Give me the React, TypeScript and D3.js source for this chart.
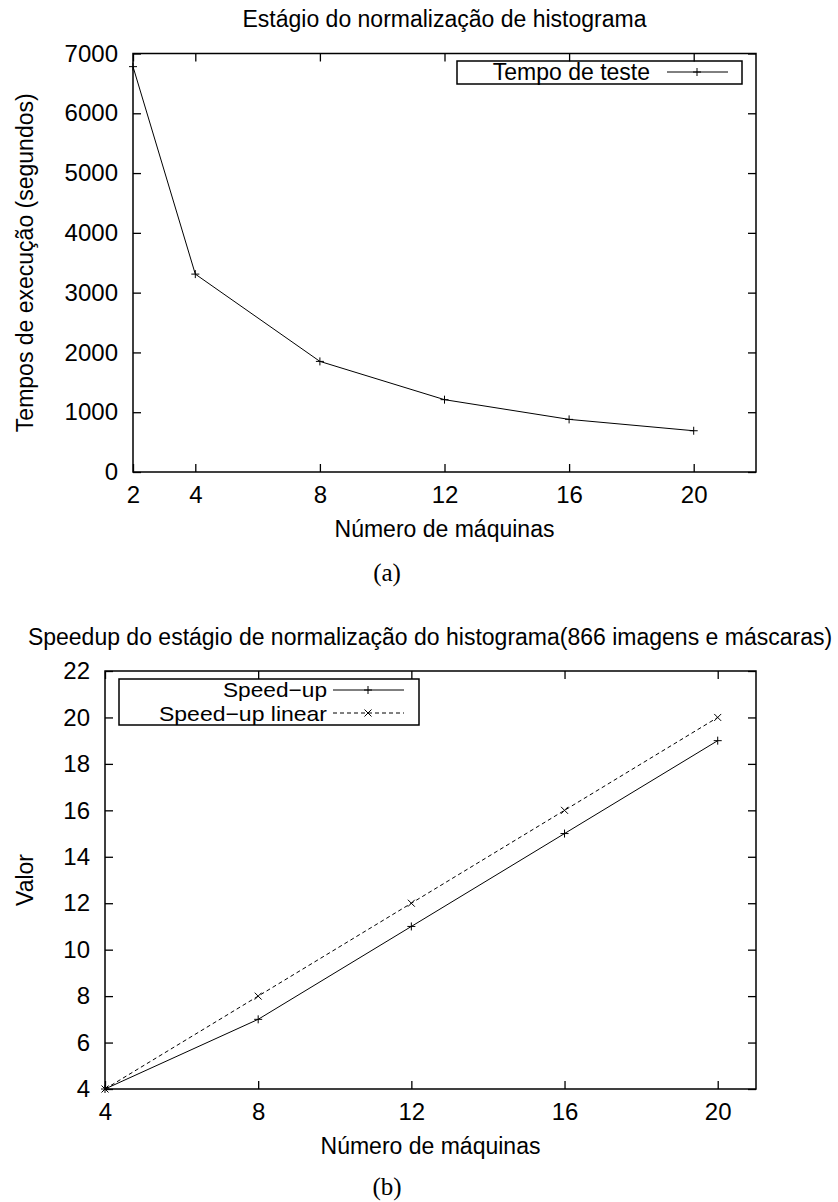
import React, { useEffect, useRef } from 'react';
import * as d3 from 'd3';

// painel (a): tempo de teste
const machinesA = [2, 4, 8, 12, 16, 20];
const tempoTeste = [6780, 3310, 1850, 1210, 880, 690];
const xTicksA = [2, 4, 8, 12, 16, 20];
const yTicksA = [0, 1000, 2000, 3000, 4000, 5000, 6000, 7000];

// painel (b): speedup
const machinesB = [4, 8, 12, 16, 20];
const speedup = [4, 7, 11, 15, 19];
const speedupLinear = [4, 8, 12, 16, 20];
const xTicksB = [4, 8, 12, 16, 20];
const yTicksB = [4, 6, 8, 10, 12, 14, 16, 18, 20, 22];

const FONT = '"Liberation Sans", Arial, Helvetica, sans-serif';
const SERIF = '"Liberation Serif", "Times New Roman", serif';
const FS = 23; // titulos e legendas
const FT = 24; // rotulos dos ticks

const plus = (x: number, y: number, s = 4) => `M${x - s},${y}H${x + s}M${x},${y - s}V${y + s}`;
const cross = (x: number, y: number, s = 3.5) =>
  `M${x - s},${y - s}L${x + s},${y + s}M${x - s},${y + s}L${x + s},${y - s}`;

function drawFrame(g: any, x: any, y: any, xTicks: number[], yTicks: number[], w: number, h: number) {
  const style = (sel: any, labels: boolean) => {
    sel.select('.domain').remove();
    sel.selectAll('line').attr('stroke', '#000').attr('stroke-width', 1.3);
    sel.selectAll('text')
      .attr('font-family', FONT)
      .attr('font-size', FT)
      .attr('fill', '#000');
    if (!labels) sel.selectAll('text').remove();
  };
  g.append('g').attr('transform', `translate(0,${h})`)
    .call(d3.axisBottom(x).tickValues(xTicks).tickSize(-8).tickPadding(14).tickFormat(d3.format('d')))
    .call((s: any) => style(s, true));
  g.append('g')
    .call(d3.axisTop(x).tickValues(xTicks).tickSize(-8).tickFormat(() => ''))
    .call((s: any) => style(s, false));
  g.append('g')
    .call(d3.axisLeft(y).tickValues(yTicks).tickSize(-8).tickPadding(15).tickFormat(d3.format('d')))
    .call((s: any) => style(s, true));
  g.append('g').attr('transform', `translate(${w},0)`)
    .call(d3.axisRight(y).tickValues(yTicks).tickSize(-8).tickFormat(() => ''))
    .call((s: any) => style(s, false));
  g.append('rect').attr('width', w).attr('height', h)
    .attr('fill', 'none').attr('stroke', '#000').attr('stroke-width', 1.5);
}

function text(svg: any, str: string, x: number, y: number, anchor = 'middle', rotate = false, family = FONT, size = FS) {
  const t = svg.append('text')
    .attr('font-family', family).attr('font-size', size)
    .attr('text-anchor', anchor).attr('fill', '#000').text(str);
  if (rotate) t.attr('transform', `translate(${x},${y}) rotate(-90)`);
  else t.attr('x', x).attr('y', y);
  return t;
}

export default function App() {
  const ref = useRef<SVGSVGElement>(null);

  useEffect(() => {
    const svg = d3.select(ref.current);
    svg.selectAll('*').remove();

    // ---------- (a) ----------
    const A = { left: 133, top: 53.5, right: 756, bottom: 472 };
    const wA = A.right - A.left, hA = A.bottom - A.top;
    const xA = d3.scaleLinear().domain([2, 22]).range([0, wA]);
    const yA = d3.scaleLinear().domain([0, 7000]).range([hA, 0]);
    const gA = svg.append('g').attr('transform', `translate(${A.left},${A.top})`);
    drawFrame(gA, xA, yA, xTicksA, yTicksA, wA, hA);

    const lineA = d3.line<number>().x((_, i) => xA(machinesA[i])).y(d => yA(d));
    gA.append('path').datum(tempoTeste).attr('d', lineA)
      .attr('fill', 'none').attr('stroke', '#000').attr('stroke-width', 1);
    gA.selectAll('.pA').data(tempoTeste).enter().append('path')
      .attr('d', (d, i) => plus(xA(machinesA[i]), yA(d)))
      .attr('stroke', '#000').attr('stroke-width', 1);

    // legenda (a)
    svg.append('rect').attr('x', 457).attr('y', 61).attr('width', 285).attr('height', 23)
      .attr('fill', 'none').attr('stroke', '#000').attr('stroke-width', 1.5);
    text(svg, 'Tempo de teste', 650, 80, 'end');
    svg.append('line').attr('x1', 667).attr('x2', 728).attr('y1', 72).attr('y2', 72)
      .attr('stroke', '#000').attr('stroke-width', 1);
    svg.append('path').attr('d', plus(697, 72)).attr('stroke', '#000').attr('stroke-width', 1);

    text(svg, 'Estágio do normalização de histograma', (A.left + A.right) / 2, 27);
    text(svg, 'Tempos de execução (segundos)', 33, (A.top + A.bottom) / 2, 'middle', true);
    text(svg, 'Número de máquinas', (A.left + A.right) / 2, 537);
    text(svg, '(a)', 387, 581, 'middle', false, SERIF, 25);

    // ---------- (b) ----------
    const B = { left: 105, top: 671, right: 756, bottom: 1089 };
    const wB = B.right - B.left, hB = B.bottom - B.top;
    const xB = d3.scaleLinear().domain([4, 21]).range([0, wB]);
    const yB = d3.scaleLinear().domain([4, 22]).range([hB, 0]);
    const gB = svg.append('g').attr('transform', `translate(${B.left},${B.top})`);
    drawFrame(gB, xB, yB, xTicksB, yTicksB, wB, hB);

    const lineB = d3.line<number>().x((_, i) => xB(machinesB[i])).y(d => yB(d));
    gB.append('path').datum(speedup).attr('d', lineB)
      .attr('fill', 'none').attr('stroke', '#000').attr('stroke-width', 1);
    gB.append('path').datum(speedupLinear).attr('d', lineB)
      .attr('fill', 'none').attr('stroke', '#000').attr('stroke-width', 1).attr('stroke-dasharray', '4,3');
    gB.selectAll('.pB').data(speedup).enter().append('path')
      .attr('d', (d, i) => plus(xB(machinesB[i]), yB(d)))
      .attr('stroke', '#000').attr('stroke-width', 1);
    gB.selectAll('.xB').data(speedupLinear).enter().append('path')
      .attr('d', (d, i) => cross(xB(machinesB[i]), yB(d)))
      .attr('stroke', '#000').attr('stroke-width', 1);

    // legenda (b) - fonte um pouco menor para as duas linhas nao se sobreporem
    svg.append('rect').attr('x', 119).attr('y', 679).attr('width', 300).attr('height', 46)
      .attr('fill', 'none').attr('stroke', '#000').attr('stroke-width', 1.5);
    text(svg, 'Speed\u2212up', 327, 697, 'end', false, FONT, 21)
      .attr('textLength', 104).attr('lengthAdjust', 'spacingAndGlyphs');
    text(svg, 'Speed\u2212up linear', 327, 721, 'end', false, FONT, 21)
      .attr('textLength', 168).attr('lengthAdjust', 'spacingAndGlyphs');
    svg.append('line').attr('x1', 333).attr('x2', 404).attr('y1', 690).attr('y2', 690)
      .attr('stroke', '#000').attr('stroke-width', 1);
    svg.append('path').attr('d', plus(368, 690)).attr('stroke', '#000').attr('stroke-width', 1);
    svg.append('line').attr('x1', 333).attr('x2', 404).attr('y1', 713).attr('y2', 713)
      .attr('stroke', '#000').attr('stroke-width', 1).attr('stroke-dasharray', '4,3');
    svg.append('path').attr('d', cross(368, 713)).attr('stroke', '#000').attr('stroke-width', 1);

    text(svg, 'Speedup do estágio de normalização do histograma(866 imagens e máscaras)', 430, 645);
    text(svg, 'Valor', 33, (B.top + B.bottom) / 2, 'middle', true);
    text(svg, 'Número de máquinas', (B.left + B.right) / 2, 1154);
    text(svg, '(b)', 387, 1195, 'middle', false, SERIF, 25);
  }, []);

  return (
    <svg ref={ref} width={838} height={1202}
      style={{ position: 'absolute', left: 0, top: 0, background: '#fff' }} />
  );
}
